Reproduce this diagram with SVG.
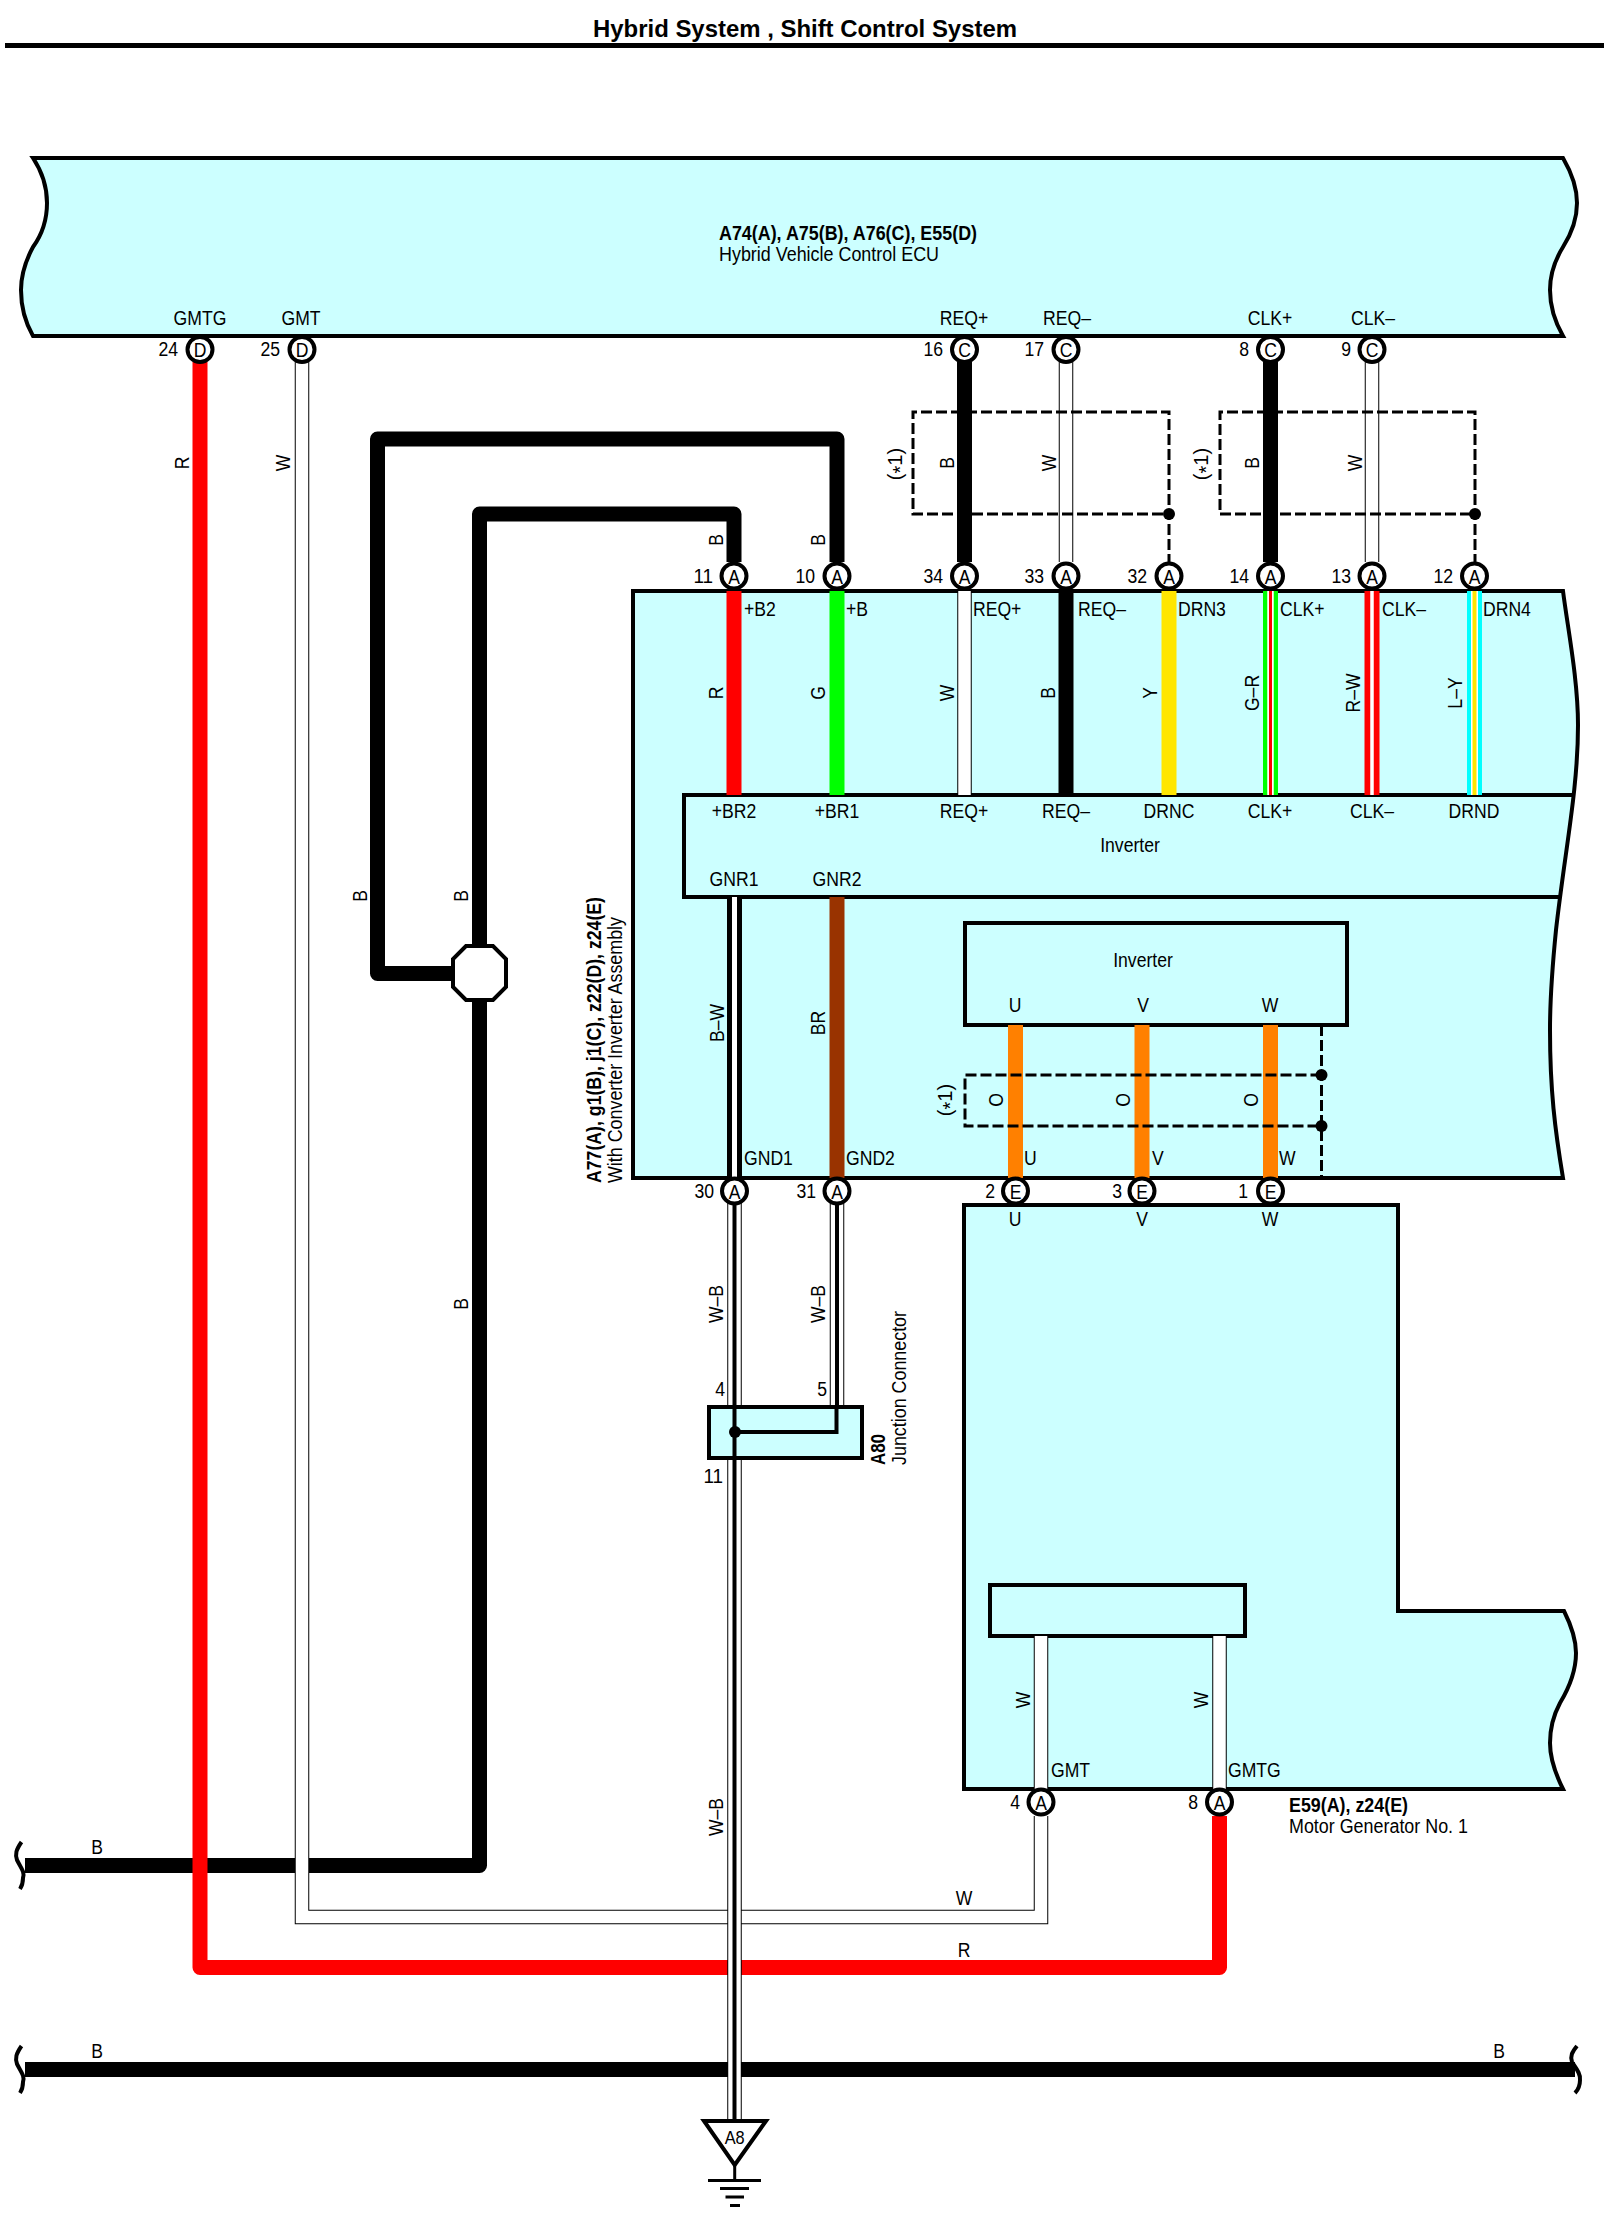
<svg xmlns="http://www.w3.org/2000/svg" width="1615" height="2219" viewBox="0 0 1615 2219">
<style>
text{font-family:"Liberation Sans",Arial,sans-serif;font-size:20px;fill:#000}
.m{text-anchor:middle}
.e{text-anchor:end}
.b{font-weight:bold}
.box{fill:#ccffff;stroke:#000;stroke-width:4;stroke-linejoin:miter}
.ln{fill:none;stroke:#000;stroke-width:4}
.w{fill:none;stroke-linejoin:round}
.wk{stroke:#000;stroke-width:15}
.wr{stroke:#f00;stroke-width:15}
.wg{stroke:#0f0;stroke-width:15}
.wy{stroke:#ffe600;stroke-width:15}
.wo{stroke:#ff8000;stroke-width:15}
.wn{stroke:#930;stroke-width:15}
.wc{stroke:#0ff;stroke-width:15}
.o1{stroke:#000;stroke-width:14.5;stroke-linejoin:miter}
.o2{stroke:#fff;stroke-width:12.5;stroke-linejoin:miter}
.c4{stroke:#000;stroke-width:4}
.dash{fill:none;stroke:#000;stroke-width:3;stroke-dasharray:11 4}
.pin{fill:#fff;stroke:#000;stroke-width:4}
.dot{fill:#000}
</style>

<g id="title">
<text class="b m" x="805" y="36.500" style="font-size:24px" textLength="424" lengthAdjust="spacingAndGlyphs">Hybrid System , Shift Control System</text>
<path d="M5 45.500H1604" stroke="#000" stroke-width="5" fill="none"/>
</g>

<g id="ecu">
<path class="box" d="M33 158H1563C1570 170 1577 185 1577 203C1577 222 1570 236 1563 247C1555 260 1550 273 1550 290C1550 308 1555 322 1563 336H33C25 322 21 308 21 290C21 273 26 260 33 247C41 236 47 222 47 203C47 185 41 170 33 158Z"/>
<text class="b" x="719" y="240" style="font-size:21px" textLength="258" lengthAdjust="spacingAndGlyphs">A74(A), A75(B), A76(C), E55(D)</text>
<text x="719" y="261" style="font-size:21px" textLength="220" lengthAdjust="spacingAndGlyphs">Hybrid Vehicle Control ECU</text>
<text class="m" x="200" y="325" textLength="52.800" lengthAdjust="spacingAndGlyphs">GMTG</text>
<text class="m" x="301" y="325" textLength="39" lengthAdjust="spacingAndGlyphs">GMT</text>
<text class="m" x="964" y="325" textLength="48.400" lengthAdjust="spacingAndGlyphs">REQ+</text>
<text class="m" x="1067" y="325" textLength="48" lengthAdjust="spacingAndGlyphs">REQ–</text>
<text class="m" x="1270" y="325" textLength="44.500" lengthAdjust="spacingAndGlyphs">CLK+</text>
<text class="m" x="1373" y="325" textLength="44" lengthAdjust="spacingAndGlyphs">CLK–</text>
</g>

<g id="assembly">
<path class="box" d="M633 591H1563C1568 630 1578 680 1578 725C1578 790 1565 850 1556 930C1552 970 1550 1000 1550 1030C1550 1090 1555 1130 1563 1178H633Z"/>
<path class="ln" d="M1574 795H684V897H1561"/>
<path class="ln" d="M965 1025V923H1347V1025Z"/>
<text class="m" x="1130" y="852" textLength="59.700" lengthAdjust="spacingAndGlyphs">Inverter</text>
<text class="m" x="1143" y="967" textLength="59.700" lengthAdjust="spacingAndGlyphs">Inverter</text>
<text class="b" transform="rotate(-90 601 1183)" x="601" y="1183" style="font-size:21px" textLength="286" lengthAdjust="spacingAndGlyphs">A77(A), g1(B), j1(C), z22(D), z24(E)</text>
<text transform="rotate(-90 622 1183)" x="622" y="1183" style="font-size:21px" textLength="266" lengthAdjust="spacingAndGlyphs">With Converter Inverter Assembly</text>
<text x="744" y="616" textLength="31.800" lengthAdjust="spacingAndGlyphs">+B2</text>
<text x="846" y="616" textLength="22" lengthAdjust="spacingAndGlyphs">+B</text>
<text x="973" y="616" textLength="48.400" lengthAdjust="spacingAndGlyphs">REQ+</text>
<text x="1078" y="616" textLength="48" lengthAdjust="spacingAndGlyphs">REQ–</text>
<text x="1178" y="616" textLength="47.900" lengthAdjust="spacingAndGlyphs">DRN3</text>
<text x="1280" y="616" textLength="44.500" lengthAdjust="spacingAndGlyphs">CLK+</text>
<text x="1382" y="616" textLength="44" lengthAdjust="spacingAndGlyphs">CLK–</text>
<text x="1483" y="616" textLength="47.900" lengthAdjust="spacingAndGlyphs">DRN4</text>
<text class="m" x="734" y="818" textLength="44.500" lengthAdjust="spacingAndGlyphs">+BR2</text>
<text class="m" x="837" y="818" textLength="44.500" lengthAdjust="spacingAndGlyphs">+BR1</text>
<text class="m" x="964" y="818" textLength="48.400" lengthAdjust="spacingAndGlyphs">REQ+</text>
<text class="m" x="1066" y="818" textLength="48" lengthAdjust="spacingAndGlyphs">REQ–</text>
<text class="m" x="1169" y="818" textLength="50.800" lengthAdjust="spacingAndGlyphs">DRNC</text>
<text class="m" x="1270" y="818" textLength="44.500" lengthAdjust="spacingAndGlyphs">CLK+</text>
<text class="m" x="1372" y="818" textLength="44" lengthAdjust="spacingAndGlyphs">CLK–</text>
<text class="m" x="1474" y="818" textLength="50.800" lengthAdjust="spacingAndGlyphs">DRND</text>
<text class="m" x="734" y="886" textLength="48.900" lengthAdjust="spacingAndGlyphs">GNR1</text>
<text class="m" x="837" y="886" textLength="48.900" lengthAdjust="spacingAndGlyphs">GNR2</text>
<text class="m" x="1015" y="1012" textLength="12.700" lengthAdjust="spacingAndGlyphs">U</text>
<text class="m" x="1143" y="1012" textLength="11.700" lengthAdjust="spacingAndGlyphs">V</text>
<text class="m" x="1270" y="1012" textLength="16.600" lengthAdjust="spacingAndGlyphs">W</text>
<text x="744" y="1165" textLength="48.900" lengthAdjust="spacingAndGlyphs">GND1</text>
<text x="846" y="1165" textLength="48.900" lengthAdjust="spacingAndGlyphs">GND2</text>
<text x="1024" y="1165" textLength="12.700" lengthAdjust="spacingAndGlyphs">U</text>
<text x="1152" y="1165" textLength="11.700" lengthAdjust="spacingAndGlyphs">V</text>
<text x="1279" y="1165" textLength="16.600" lengthAdjust="spacingAndGlyphs">W</text>
</g>

<g id="motor-generator">
<path class="box" d="M964 1205H1398V1611H1564C1571 1625 1576 1638 1576 1653C1576 1672 1569 1688 1560 1703C1553 1716 1550 1728 1550 1743C1550 1760 1556 1775 1563 1789H964Z"/>
<path class="ln" d="M990 1585H1245V1636H990Z"/>
<text class="m" x="1015" y="1226" textLength="12.700" lengthAdjust="spacingAndGlyphs">U</text>
<text class="m" x="1142" y="1226" textLength="11.700" lengthAdjust="spacingAndGlyphs">V</text>
<text class="m" x="1270" y="1226" textLength="16.600" lengthAdjust="spacingAndGlyphs">W</text>
<text x="1051" y="1777" textLength="39" lengthAdjust="spacingAndGlyphs">GMT</text>
<text x="1228" y="1777" textLength="52.800" lengthAdjust="spacingAndGlyphs">GMTG</text>
<text class="b" x="1289" y="1812" style="font-size:20px" textLength="119" lengthAdjust="spacingAndGlyphs">E59(A), z24(E)</text>
<text x="1289" y="1833" style="font-size:20px" textLength="179" lengthAdjust="spacingAndGlyphs">Motor Generator No. 1</text>
</g>

<g id="connectors">
<g class="w">
<path class="wk" d="M25 2069.500H1575"/>
<path class="wk" d="M25 1865.500H479.500V973"/>
<path class="wk" d="M479.500 973V514H734V562"/>
<path class="wk" d="M470 973.500H377.500V439H837V562"/>
<path class="wk" d="M964.500 362V562"/>
<path class="wk" d="M1270.500 362V562"/>
<path class="wr" d="M200 362V1967.500H1219.500V1816"/>
<path class="o1" d="M302 362V1917H1041V1816"/>
<path class="o2" d="M302 362V1917H1041V1816"/>
<path class="o1" d="M1066 362V562M1372 362V562"/>
<path class="o2" d="M1066 362V562M1372 362V562"/>
<path class="wr" d="M734 591V795"/>
<path class="wg" d="M837 591V795"/>
<path class="o1" d="M964.500 591V795"/>
<path class="o2" d="M964.500 591V795"/>
<path class="wk" d="M1066 591V795"/>
<path class="wy" d="M1169 591V795"/>
<path class="wg" d="M1270.500 591V795"/>
<path stroke="#fff" stroke-width="6.500" d="M1270.500 591V795"/>
<path stroke="#f00" stroke-width="3" d="M1270.500 591V795"/>
<path class="wr" d="M1372 591V795"/>
<path stroke="#fff" stroke-width="3.500" d="M1372 591V795"/>
<path class="wc" d="M1474.500 591V795"/>
<path stroke="#fff" stroke-width="7" d="M1474.500 591V795"/>
<path stroke="#ffe600" stroke-width="4" d="M1474.500 591V795"/>
<path class="wk" d="M734.500 897V1178"/>
<path stroke="#fff" stroke-width="5" d="M734.500 897V1178"/>
<path class="wn" d="M837 897V1178"/>
<path class="wo" d="M1015.500 1025V1178"/>
<path class="wo" d="M1142 1025V1178"/>
<path class="wo" d="M1270.500 1025V1178"/>
<path class="o1" d="M1041 1636V1789M1219.500 1636V1789"/>
<path class="o2" d="M1041 1636V1789M1219.500 1636V1789"/>
<path class="o1" d="M734.500 1200V2122M837 1200V1407"/>
<path class="o2" d="M734.500 1200V2122M837 1200V1407"/>
<path class="c4" d="M734.500 1200V2122M837 1200V1407"/>
</g>
<path class="dash" d="M1169 565V412H913V514H1169"/>
<path class="dash" d="M1475 565V412H1220V514H1475"/>
<path class="dash" d="M1321.500 1025V1178"/>
<path class="dash" d="M1321.500 1075H965V1126H1321.500"/>
<circle class="dot" cx="1169" cy="514" r="6"/>
<circle class="dot" cx="1475" cy="514" r="6"/>
<circle class="dot" cx="1321.500" cy="1075" r="6"/>
<circle class="dot" cx="1321.500" cy="1126" r="6"/>
</g>

<g id="wire-labels">
<text class="m" transform="rotate(-90 189 463)" x="189" y="463" textLength="12.700" lengthAdjust="spacingAndGlyphs">R</text>
<text class="m" transform="rotate(-90 290 463)" x="290" y="463" textLength="16.600" lengthAdjust="spacingAndGlyphs">W</text>
<text class="m" transform="rotate(-90 366.500 896)" x="366.500" y="896" textLength="11.700" lengthAdjust="spacingAndGlyphs">B</text>
<text class="m" transform="rotate(-90 467.500 896)" x="467.500" y="896" textLength="11.700" lengthAdjust="spacingAndGlyphs">B</text>
<text class="m" transform="rotate(-90 467.500 1304)" x="467.500" y="1304" textLength="11.700" lengthAdjust="spacingAndGlyphs">B</text>
<text class="m" transform="rotate(-90 723 540)" x="723" y="540" textLength="11.700" lengthAdjust="spacingAndGlyphs">B</text>
<text class="m" transform="rotate(-90 825 540)" x="825" y="540" textLength="11.700" lengthAdjust="spacingAndGlyphs">B</text>
<text class="m" transform="rotate(-90 954 463)" x="954" y="463" textLength="11.700" lengthAdjust="spacingAndGlyphs">B</text>
<text class="m" transform="rotate(-90 1056 463)" x="1056" y="463" textLength="16.600" lengthAdjust="spacingAndGlyphs">W</text>
<text class="m" transform="rotate(-90 1259 463)" x="1259" y="463" textLength="11.700" lengthAdjust="spacingAndGlyphs">B</text>
<text class="m" transform="rotate(-90 1361.500 463)" x="1361.500" y="463" textLength="16.600" lengthAdjust="spacingAndGlyphs">W</text>
<text class="m" transform="rotate(-90 902 464)" x="902" y="464">(<tspan dy="5">*</tspan><tspan dy="-5">1</tspan>)</text>
<text class="m" transform="rotate(-90 1208 464)" x="1208" y="464">(<tspan dy="5">*</tspan><tspan dy="-5">1</tspan>)</text>
<text class="m" transform="rotate(-90 723 693)" x="723" y="693" textLength="12.700" lengthAdjust="spacingAndGlyphs">R</text>
<text class="m" transform="rotate(-90 825 693)" x="825" y="693" textLength="13.700" lengthAdjust="spacingAndGlyphs">G</text>
<text class="m" transform="rotate(-90 954 693)" x="954" y="693" textLength="16.600" lengthAdjust="spacingAndGlyphs">W</text>
<text class="m" transform="rotate(-90 1055 693)" x="1055" y="693" textLength="11.700" lengthAdjust="spacingAndGlyphs">B</text>
<text class="m" transform="rotate(-90 1157 693)" x="1157" y="693" textLength="11.700" lengthAdjust="spacingAndGlyphs">Y</text>
<text class="m" transform="rotate(-90 1259 693)" x="1259" y="693" textLength="36.200" lengthAdjust="spacingAndGlyphs">G–R</text>
<text class="m" transform="rotate(-90 1360 693)" x="1360" y="693" textLength="39" lengthAdjust="spacingAndGlyphs">R–W</text>
<text class="m" transform="rotate(-90 1462 693)" x="1462" y="693" textLength="31.300" lengthAdjust="spacingAndGlyphs">L–Y</text>
<text class="m" transform="rotate(-90 723.500 1023)" x="723.500" y="1023" textLength="38" lengthAdjust="spacingAndGlyphs">B–W</text>
<text class="m" transform="rotate(-90 824.500 1023)" x="824.500" y="1023" textLength="24.400" lengthAdjust="spacingAndGlyphs">BR</text>
<text class="m" transform="rotate(-90 1003 1100)" x="1003" y="1100" textLength="13.700" lengthAdjust="spacingAndGlyphs">O</text>
<text class="m" transform="rotate(-90 1130 1100)" x="1130" y="1100" textLength="13.700" lengthAdjust="spacingAndGlyphs">O</text>
<text class="m" transform="rotate(-90 1258 1100)" x="1258" y="1100" textLength="13.700" lengthAdjust="spacingAndGlyphs">O</text>
<text class="m" transform="rotate(-90 952 1100)" x="952" y="1100">(<tspan dy="5">*</tspan><tspan dy="-5">1</tspan>)</text>
<text class="m" transform="rotate(-90 722.500 1304)" x="722.500" y="1304" textLength="38" lengthAdjust="spacingAndGlyphs">W–B</text>
<text class="m" transform="rotate(-90 825 1304)" x="825" y="1304" textLength="38" lengthAdjust="spacingAndGlyphs">W–B</text>
<text class="m" transform="rotate(-90 722.500 1817)" x="722.500" y="1817" textLength="38" lengthAdjust="spacingAndGlyphs">W–B</text>
<text class="m" transform="rotate(-90 1029.500 1700)" x="1029.500" y="1700" textLength="16.600" lengthAdjust="spacingAndGlyphs">W</text>
<text class="m" transform="rotate(-90 1208 1700)" x="1208" y="1700" textLength="16.600" lengthAdjust="spacingAndGlyphs">W</text>
<text class="m" x="964" y="1905" textLength="16.600" lengthAdjust="spacingAndGlyphs">W</text>
<text class="m" x="964" y="1957" textLength="12.700" lengthAdjust="spacingAndGlyphs">R</text>
<text class="m" x="97" y="1854" textLength="11.700" lengthAdjust="spacingAndGlyphs">B</text>
<text class="m" x="97" y="2058" textLength="11.700" lengthAdjust="spacingAndGlyphs">B</text>
<text class="m" x="1499" y="2058" textLength="11.700" lengthAdjust="spacingAndGlyphs">B</text>
</g>

<g id="bus-ends" fill="none" stroke="#000" stroke-width="4">
<path d="M21.500 1842C16 1850 15 1854 17 1860C21 1868 25 1872 23 1878C23 1882 22 1886 20 1889"/>
<path d="M21.500 2046C16 2054 15 2058 17 2064C21 2072 25 2076 23 2082C23 2086 22 2090 20 2093"/>
<path d="M1577 2046C1572 2052 1570 2056 1572 2062C1576 2068 1581 2074 1580 2080C1580 2085 1578 2090 1575 2093"/>
</g>

<g id="junction-a80">
<rect class="box" x="709" y="1407" width="153" height="51"/>
<path class="c4" fill="none" d="M734.500 1407V1458M735 1432H836.500V1407"/>
<circle class="dot" cx="735" cy="1432" r="6"/>
<text class="e" x="725" y="1396" textLength="9.800" lengthAdjust="spacingAndGlyphs">4</text>
<text class="e" x="827" y="1396" textLength="9.800" lengthAdjust="spacingAndGlyphs">5</text>
<text class="e" x="723" y="1483" textLength="19.600" lengthAdjust="spacingAndGlyphs">11</text>
<text class="b" transform="rotate(-90 885 1465)" x="885" y="1465" style="font-size:20px" textLength="31" lengthAdjust="spacingAndGlyphs">A80</text>
<text transform="rotate(-90 906 1465)" x="906" y="1465" style="font-size:20px" textLength="154" lengthAdjust="spacingAndGlyphs">Junction Connector</text>
</g>

<g id="splice">
<path d="M466 946H493L506 959V987L493 1000H466L453 987V959Z" fill="#fff" stroke="#000" stroke-width="4"/>
</g>

<g id="ground-a8">
<path d="M704 2121H766L734.700 2165Z" fill="#fff" stroke="#000" stroke-width="4"/>
<text class="m" x="734.700" y="2144" style="font-size:19px" textLength="20" lengthAdjust="spacingAndGlyphs">A8</text>
<path d="M734.700 2165V2180" stroke="#000" stroke-width="3" fill="none"/>
<path d="M708 2180.500H761M720 2188.500H749M725.500 2197H744M730 2205.500H740" stroke="#000" stroke-width="3" fill="none"/>
</g>

<g id="pins">
<g id="p24"><circle class="pin" cx="200" cy="349.500" r="12.500"/><text class="m" x="200" y="357" textLength="12.700" lengthAdjust="spacingAndGlyphs">D</text><text class="e" x="178" y="356" textLength="19.600" lengthAdjust="spacingAndGlyphs">24</text></g>
<g id="p25"><circle class="pin" cx="302" cy="349.500" r="12.500"/><text class="m" x="302" y="357" textLength="12.700" lengthAdjust="spacingAndGlyphs">D</text><text class="e" x="280" y="356" textLength="19.600" lengthAdjust="spacingAndGlyphs">25</text></g>
<g id="p16"><circle class="pin" cx="964.500" cy="349.500" r="12.500"/><text class="m" x="964.500" y="357" textLength="12.700" lengthAdjust="spacingAndGlyphs">C</text><text class="e" x="943" y="356" textLength="19.600" lengthAdjust="spacingAndGlyphs">16</text></g>
<g id="p17"><circle class="pin" cx="1066" cy="349.500" r="12.500"/><text class="m" x="1066" y="357" textLength="12.700" lengthAdjust="spacingAndGlyphs">C</text><text class="e" x="1044" y="356" textLength="19.600" lengthAdjust="spacingAndGlyphs">17</text></g>
<g id="p8"><circle class="pin" cx="1270.500" cy="349.500" r="12.500"/><text class="m" x="1270.500" y="357" textLength="12.700" lengthAdjust="spacingAndGlyphs">C</text><text class="e" x="1249" y="356" textLength="9.800" lengthAdjust="spacingAndGlyphs">8</text></g>
<g id="p9"><circle class="pin" cx="1372" cy="349.500" r="12.500"/><text class="m" x="1372" y="357" textLength="12.700" lengthAdjust="spacingAndGlyphs">C</text><text class="e" x="1351" y="356" textLength="9.800" lengthAdjust="spacingAndGlyphs">9</text></g>
<g id="a11"><circle class="pin" cx="734" cy="576" r="12.500"/><text class="m" x="734" y="583.500" textLength="11.700" lengthAdjust="spacingAndGlyphs">A</text><text class="e" x="713" y="583" textLength="19.600" lengthAdjust="spacingAndGlyphs">11</text></g>
<g id="a10"><circle class="pin" cx="837" cy="576" r="12.500"/><text class="m" x="837" y="583.500" textLength="11.700" lengthAdjust="spacingAndGlyphs">A</text><text class="e" x="815" y="583" textLength="19.600" lengthAdjust="spacingAndGlyphs">10</text></g>
<g id="a34"><circle class="pin" cx="964.500" cy="576" r="12.500"/><text class="m" x="964.500" y="583.500" textLength="11.700" lengthAdjust="spacingAndGlyphs">A</text><text class="e" x="943" y="583" textLength="19.600" lengthAdjust="spacingAndGlyphs">34</text></g>
<g id="a33"><circle class="pin" cx="1066" cy="576" r="12.500"/><text class="m" x="1066" y="583.500" textLength="11.700" lengthAdjust="spacingAndGlyphs">A</text><text class="e" x="1044" y="583" textLength="19.600" lengthAdjust="spacingAndGlyphs">33</text></g>
<g id="a32"><circle class="pin" cx="1169" cy="576" r="12.500"/><text class="m" x="1169" y="583.500" textLength="11.700" lengthAdjust="spacingAndGlyphs">A</text><text class="e" x="1147" y="583" textLength="19.600" lengthAdjust="spacingAndGlyphs">32</text></g>
<g id="a14"><circle class="pin" cx="1270.500" cy="576" r="12.500"/><text class="m" x="1270.500" y="583.500" textLength="11.700" lengthAdjust="spacingAndGlyphs">A</text><text class="e" x="1249" y="583" textLength="19.600" lengthAdjust="spacingAndGlyphs">14</text></g>
<g id="a13"><circle class="pin" cx="1372" cy="576" r="12.500"/><text class="m" x="1372" y="583.500" textLength="11.700" lengthAdjust="spacingAndGlyphs">A</text><text class="e" x="1351" y="583" textLength="19.600" lengthAdjust="spacingAndGlyphs">13</text></g>
<g id="a12"><circle class="pin" cx="1474.500" cy="576" r="12.500"/><text class="m" x="1474.500" y="583.500" textLength="11.700" lengthAdjust="spacingAndGlyphs">A</text><text class="e" x="1453" y="583" textLength="19.600" lengthAdjust="spacingAndGlyphs">12</text></g>
<g id="a30"><circle class="pin" cx="734.500" cy="1191" r="12.500"/><text class="m" x="734.500" y="1198.500" textLength="11.700" lengthAdjust="spacingAndGlyphs">A</text><text class="e" x="714" y="1198" textLength="19.600" lengthAdjust="spacingAndGlyphs">30</text></g>
<g id="a31"><circle class="pin" cx="837" cy="1191" r="12.500"/><text class="m" x="837" y="1198.500" textLength="11.700" lengthAdjust="spacingAndGlyphs">A</text><text class="e" x="816" y="1198" textLength="19.600" lengthAdjust="spacingAndGlyphs">31</text></g>
<g id="e2"><circle class="pin" cx="1015.500" cy="1191" r="12.500"/><text class="m" x="1015.500" y="1198.500" textLength="11.700" lengthAdjust="spacingAndGlyphs">E</text><text class="e" x="995" y="1198" textLength="9.800" lengthAdjust="spacingAndGlyphs">2</text></g>
<g id="e3"><circle class="pin" cx="1142" cy="1191" r="12.500"/><text class="m" x="1142" y="1198.500" textLength="11.700" lengthAdjust="spacingAndGlyphs">E</text><text class="e" x="1122" y="1198" textLength="9.800" lengthAdjust="spacingAndGlyphs">3</text></g>
<g id="e1"><circle class="pin" cx="1270.500" cy="1191" r="12.500"/><text class="m" x="1270.500" y="1198.500" textLength="11.700" lengthAdjust="spacingAndGlyphs">E</text><text class="e" x="1248" y="1198" textLength="9.800" lengthAdjust="spacingAndGlyphs">1</text></g>
<g id="m4"><circle class="pin" cx="1041" cy="1802" r="12.500"/><text class="m" x="1041" y="1809.500" textLength="11.700" lengthAdjust="spacingAndGlyphs">A</text><text class="e" x="1020" y="1809" textLength="9.800" lengthAdjust="spacingAndGlyphs">4</text></g>
<g id="m8"><circle class="pin" cx="1219.500" cy="1802" r="12.500"/><text class="m" x="1219.500" y="1809.500" textLength="11.700" lengthAdjust="spacingAndGlyphs">A</text><text class="e" x="1198" y="1809" textLength="9.800" lengthAdjust="spacingAndGlyphs">8</text></g>
</g>
</svg>
